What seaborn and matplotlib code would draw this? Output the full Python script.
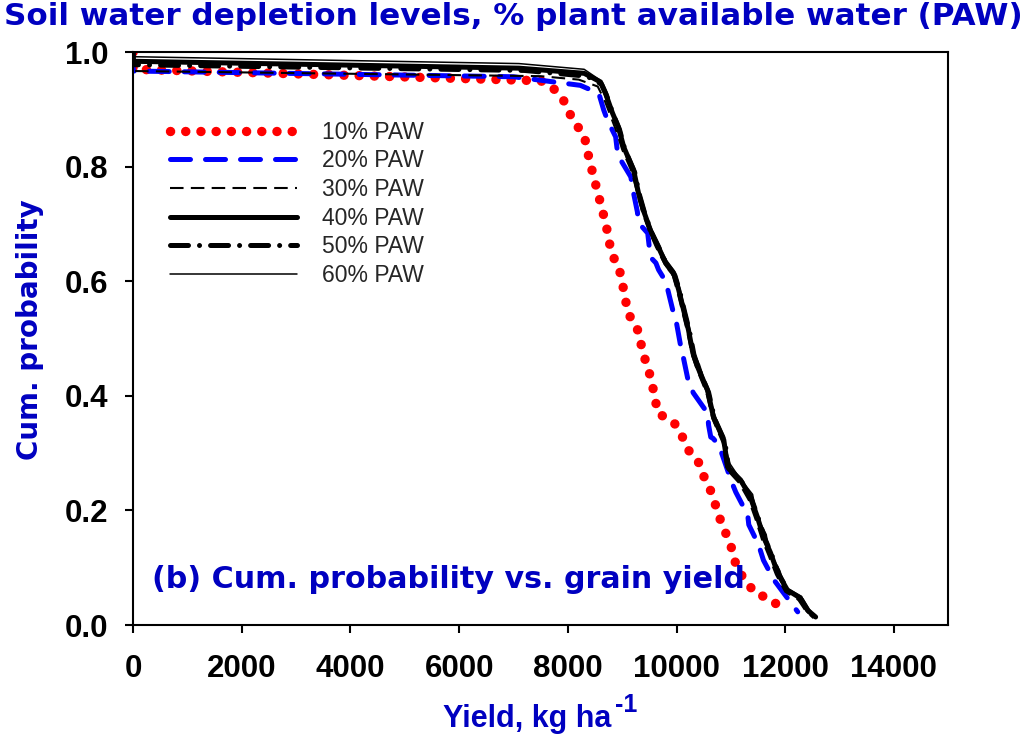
import matplotlib
matplotlib.use("Agg")
import matplotlib.pyplot as plt
import seaborn as sns
import pandas as pd

# ---------------- data ----------------
labels = ["10% PAW", "20% PAW", "30% PAW", "40% PAW", "50% PAW", "60% PAW"]

x10 = [0, 0, 7500, 7700, 7900, 8100, 8300, 8400, 8550, 8700, 8800, 8950, 9050, 9100, 9270, 9400,
       9500, 9600, 9650, 9950, 10100, 10250, 10400, 10500, 10650, 10780, 10920, 11050, 11100,
       11250, 11450, 11750, 12000]
y10 = [1.0, 0.97, 0.95, 0.94, 0.92, 0.88, 0.855, 0.81, 0.755, 0.70, 0.65, 0.62, 0.575, 0.545, 0.52,
       0.47, 0.44, 0.40, 0.37, 0.354, 0.33, 0.30, 0.285, 0.26, 0.23, 0.19, 0.157, 0.125, 0.10,
       0.08, 0.055, 0.045, 0.02]

x20 = [0, 0, 7000, 8230, 8570, 8660, 8730, 8880, 8920, 9160, 9190, 9280, 9300, 9470, 9520, 9620,
       9670, 9760, 9840, 9930, 10000, 10080, 10130, 10220, 10310, 10570, 10590, 10630, 10670,
       10780, 10940, 11000, 11090, 11310, 11330, 11510, 11600, 11790, 11970, 12230]
y20 = [1.0, 0.967, 0.957, 0.942, 0.928, 0.899, 0.881, 0.852, 0.820, 0.782, 0.763, 0.721, 0.702,
       0.684, 0.642, 0.632, 0.620, 0.606, 0.585, 0.550, 0.527, 0.485, 0.465, 0.424, 0.405, 0.370,
       0.349, 0.328, 0.326, 0.314, 0.270, 0.253, 0.232, 0.192, 0.175, 0.140, 0.113, 0.079, 0.056,
       0.023]

x30 = [0, 0, 7500, 8200, 8550, 8680, 8800, 8900, 9000, 9180, 9280, 9370, 9500, 9620, 9780, 9930,
       10020, 10110, 10200, 10280, 10370, 10550, 10660, 10850, 10920, 11150, 11330, 11460, 11570,
       11700, 11830, 12000, 12240, 12380, 12520]
y30 = [1.0, 0.967, 0.958, 0.952, 0.940, 0.915, 0.885, 0.860, 0.830, 0.790, 0.752, 0.720, 0.686,
       0.660, 0.630, 0.610, 0.580, 0.545, 0.510, 0.472, 0.447, 0.405, 0.360, 0.318, 0.272, 0.248,
       0.218, 0.183, 0.150, 0.120, 0.088, 0.058, 0.044, 0.024, 0.012]

x40 = [0, 0, 7100, 8300, 8600, 8690, 8820, 8930, 9030, 9210, 9300, 9390, 9520, 9650, 9800, 9950,
       10040, 10130, 10220, 10300, 10390, 10570, 10680, 10870, 10940, 11180, 11360, 11490, 11600,
       11730, 11860, 12040, 12280, 12410, 12560]
y40 = [1.0, 0.984, 0.972, 0.963, 0.948, 0.929, 0.894, 0.869, 0.834, 0.794, 0.754, 0.724, 0.689,
       0.663, 0.632, 0.614, 0.585, 0.550, 0.515, 0.475, 0.450, 0.410, 0.363, 0.323, 0.276, 0.253,
       0.223, 0.188, 0.154, 0.126, 0.091, 0.061, 0.047, 0.026, 0.014]

x50 = [0, 0, 7200, 8350, 8620, 8710, 8840, 8950, 9050, 9230, 9320, 9410, 9540, 9670, 9820, 9970,
       10060, 10150, 10240, 10320, 10410, 10590, 10700, 10890, 10960, 11200, 11380, 11510, 11620,
       11750, 11880, 12060, 12300, 12430, 12580]
y50 = [1.0, 0.978, 0.968, 0.958, 0.944, 0.925, 0.890, 0.865, 0.830, 0.790, 0.750, 0.720, 0.685,
       0.660, 0.628, 0.610, 0.582, 0.546, 0.512, 0.472, 0.446, 0.406, 0.360, 0.320, 0.273, 0.250,
       0.220, 0.185, 0.152, 0.123, 0.089, 0.058, 0.044, 0.024, 0.012]

x60 = [0, 0, 7100, 8300, 8580, 8680, 8800, 8920, 9020, 9200, 9290, 9380, 9540, 9640, 9820, 9960,
       10060, 10150, 10240, 10290, 10420, 10560, 10700, 10850, 10980, 11150, 11400, 11470, 11650,
       11700, 11900, 12000, 12300, 12380, 12540]
y60 = [1.0, 0.992, 0.980, 0.970, 0.952, 0.932, 0.898, 0.872, 0.838, 0.798, 0.758, 0.728, 0.692,
       0.668, 0.636, 0.618, 0.588, 0.553, 0.518, 0.480, 0.455, 0.414, 0.368, 0.330, 0.282, 0.258,
       0.228, 0.192, 0.158, 0.130, 0.095, 0.066, 0.050, 0.030, 0.012]

xticks = [0, 2000, 4000, 6000, 8000, 10000, 12000, 14000]
yticks = [0.0, 0.2, 0.4, 0.6, 0.8, 1.0]

title = "Soil water depletion levels, % plant available water (PAW)"
panel = "(b) Cum. probability vs. grain yield"
ylabel = "Cum. probability"
xlabel_main = "Yield, kg ha"
xlabel_sup = "-1"

# ---------------- styling ----------------
sns.set_style("white")
plt.rcParams["font.family"] = ["Liberation Sans", "DejaVu Sans"]
TXT_BLUE = "#0000C0"
WIDE = ["DejaVu Sans"]

series = [(x10, y10), (x20, y20), (x30, y30), (x40, y40), (x50, y50), (x60, y60)]
styles = [
    dict(color="#FF0000", lw=6.8, linestyle=(0, (0.01, 1.6)), dash_capstyle="round"),
    dict(color="#0000FF", lw=3.6, linestyle=(0, (4, 3)), dash_capstyle="round"),
    dict(color="black", lw=1.5, linestyle=(0, (6.5, 3.5)), dash_capstyle="butt"),
    dict(color="black", lw=3.6, linestyle="-", solid_capstyle="round"),
    dict(color="black", lw=3.6, linestyle=(0, (3.6, 2.2, 0.01, 2.2)), dash_capstyle="round"),
    dict(color="black", lw=1.1, linestyle="-"),
]

fig = plt.figure(figsize=(10.24, 7.34), dpi=100)
ax = fig.add_axes([0.130, 0.1485, 0.796, 0.7805])

for (xs, ys), lab, st in zip(series, labels, styles):
    df = pd.DataFrame({"x": xs, "y": ys})
    sns.lineplot(data=df, x="x", y="y", sort=False, estimator=None, ax=ax,
                 label=lab, **st)

ax.set_xlim(0, 15000)
ax.set_ylim(0, 1.0)
ax.set_xticks(xticks)
ax.set_xticklabels([str(t) for t in xticks])
ax.set_yticks(yticks)
ax.set_yticklabels([f"{t:.1f}" for t in yticks])
ax.set_xlabel("")
ax.set_ylabel("")

for sp in ax.spines.values():
    sp.set_color("black")
    sp.set_linewidth(1.5)
    sp.set_visible(True)

ax.tick_params(axis="both", which="major", direction="out", length=6, width=1.5,
               colors="black", labelsize=22.5, top=False, right=False, bottom=True, left=True)
ax.tick_params(axis="x", pad=15)
ax.tick_params(axis="y", pad=12)
for lbl in ax.get_xticklabels() + ax.get_yticklabels():
    lbl.set_fontweight("bold")

# axis titles
fig.text(30 / 1024, 1 - 330 / 734, ylabel, rotation=90, ha="center", va="center",
         fontsize=20, fontweight="bold", color=TXT_BLUE, family=WIDE)
xl = fig.text(443 / 1024, 1 - 727 / 734, xlabel_main, ha="left", va="baseline",
              fontsize=22, fontweight="bold", color=TXT_BLUE)

fig.text(0.5015, 0.997, title, ha="center", va="top", fontsize=22.3, fontweight="bold",
         color=TXT_BLUE, family=WIDE)
ax.text(0.023, 0.079, panel, transform=ax.transAxes, ha="left", va="center",
        fontsize=21.7, fontweight="bold", color=TXT_BLUE, family=WIDE)

leg = ax.legend(loc="upper left", bbox_to_anchor=(0.0454, 0.880), frameon=False, fontsize=16.5,
                handlelength=5.55, handletextpad=1.09, labelspacing=0.245, borderaxespad=0,
                borderpad=0)

# superscript placed right after the x-axis title
fig.canvas.draw()
bb = xl.get_window_extent()
fig.text((bb.x1 + 4) / 1024, 1 - 712 / 734, xlabel_sup, ha="left", va="baseline",
         fontsize=18, fontweight="bold", color=TXT_BLUE)

fig.savefig("out.png", dpi=100)
